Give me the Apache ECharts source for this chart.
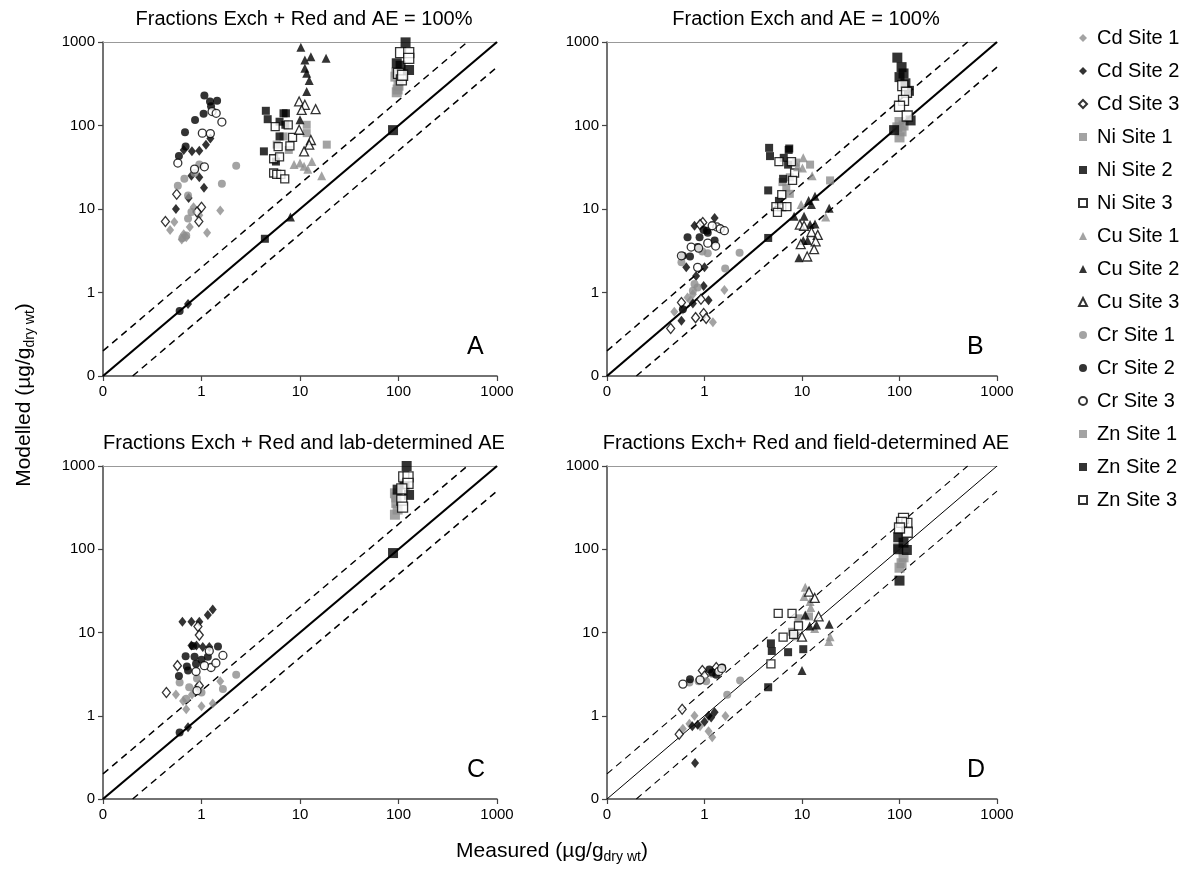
<!DOCTYPE html>
<html><head><meta charset="utf-8">
<script src="https://cdn.jsdelivr.net/npm/echarts@6/dist/echarts.min.js"></script>
<style>html,body{margin:0;padding:0;background:#fff}#c{width:1192px;height:873px}</style>
</head><body><div id="c"></div>
<script>
// ---------- Tick labels / categories ----------
const TICKS = [0.1, 1, 10, 100, 1000];
const METALS = ['Cd', 'Ni', 'Cu', 'Cr', 'Zn'];
const SITES = [1, 2, 3];
const RATIOS = [0.5, 1, 2];
const PANEL_TITLES = [
  'Fractions Exch + Red and AE = 100%',
  'Fraction Exch and AE = 100%',
  'Fractions Exch + Red and lab-determined AE',
  'Fractions Exch+ Red and field-determined AE'
];
const PANEL_LETTERS = ['A', 'B', 'C', 'D'];

// ---------- Panel A: [measured, modelled] ----------
const A_Cd1 = [[1.55,9.6],[1.14,5.2],[0.48,5.6],[0.53,7.0],[0.63,4.3],[0.76,6.1],[0.95,8.4],[0.83,10.5],[0.7,4.6],[0.66,5.0]];
const A_Cd2 = [[1.11,59],[1.23,70],[0.66,51],[0.80,49],[0.95,50],[0.79,25],[0.95,24],[1.06,18],[0.74,13.5],[0.55,10],[0.73,0.73]];
const A_Cd3 = [[0.56,15],[0.43,7.1],[1.0,10.5],[0.90,9.2],[0.94,7.1]];
const A_Ni1 = [[5.8,59],[7.7,51],[11.7,102],[11.7,81],[18.7,59],[6.8,74]];
const A_Ni2 = [[4.5,150],[4.7,119],[6.8,140],[7.2,140],[6.2,111],[7.1,102],[6.2,74],[4.3,49],[5.7,37],[4.4,4.4]];
const A_Ni3 = [[5.6,97],[7.6,102],[8.4,72],[6.0,56],[7.9,57],[5.4,40],[6.2,42],[5.4,27],[5.8,26],[6.4,26],[7.0,23]];
const A_Cu1 = [[8.7,34],[10,35.5],[11,32.4],[13.2,37],[16.6,25],[12,30]];
const A_Cu2 = [[10.2,863],[11.2,609],[12.9,667],[18.4,637],[11.2,484],[11.7,422],[12.4,345],[11.7,255],[10,117],[8,8]];
const A_Cu3 = [[9.8,194],[11.2,177],[14.4,157],[10.4,154],[9.8,89],[12.9,67],[12.4,59],[11,49]];
const A_Cr1 = [[2.25,33],[1.61,20],[0.575,19],[0.67,23],[0.73,14.5],[0.79,9.2],[0.73,7.7],[0.70,4.8],[0.64,4.5],[0.95,34],[0.85,27]];
const A_Cr2 = [[1.07,228],[1.22,194],[1.44,198],[1.25,170],[1.05,138],[0.86,116],[0.68,83],[0.69,56],[0.59,43],[0.6,0.6]];
const A_Cr3 = [[1.28,147],[1.41,140],[1.61,110],[1.02,81],[1.23,80],[0.575,35.5],[1.07,32],[0.85,30]];
const A_Zn1 = [[95,430],[93,385],[98,270],[96,250],[100,300]];
const A_Zn2 = [[118,990],[96,556],[128,462],[105,520],[88,88]];
const A_Zn3 = [[105,745],[127,745],[127,637],[100,420],[107,351],[110,400]];

// ---------- Panel B ----------
const B_Cd1 = [[0.49,0.59],[0.76,0.95],[1.22,0.44],[1.6,1.07],[0.67,0.87],[0.72,0.8],[0.6,0.62]];
const B_Cd2 = [[0.79,6.3],[1.27,7.8],[0.65,2.0],[0.82,1.58],[1.0,2.0],[0.98,1.2],[1.1,0.81],[0.58,0.46],[0.76,0.74]];
const B_Cd3 = [[0.58,0.76],[0.45,0.37],[0.81,0.5],[0.98,0.56],[1.04,0.49],[0.92,0.83],[0.96,6.9],[0.9,6.5]];
const B_Ni1 = [[7.5,24],[6.3,21],[6.9,18],[7.5,15.2],[19.4,22],[12.1,34],[8.7,36]];
const B_Ni2 = [[4.6,54],[4.7,43],[7.4,53],[7.3,51],[6.5,41],[7.2,34],[6.4,23],[4.5,16.7],[5.8,12.5],[4.5,4.5]];
const B_Ni3 = [[5.8,37],[7.8,37],[8.4,27],[8.0,22],[6.2,14.9],[5.4,10.7],[6.2,10.7],[7.0,10.7],[5.6,9.1]];
const B_Cu1 = [[10.3,41],[9,32],[10.1,31],[12.7,25],[9.8,11.3],[17.5,8]];
const B_Cu2 = [[13.6,14.2],[11.7,12.6],[12.5,11.3],[8.3,8.2],[10.5,8.2],[19,10.2],[12.1,6.5],[13.6,6.6],[10.3,4.2],[11.4,4.2],[9.3,2.6]];
const B_Cu3 = [[9.5,6.5],[10.5,6.3],[12.5,5.3],[14.5,4.9],[9.7,3.8],[13.8,4.1],[13.3,3.3],[11.3,2.7]];
const B_Cr1 = [[2.29,3.0],[1.63,1.94],[1.08,2.96],[0.58,2.3],[0.79,1.26],[0.76,1.05],[0.85,1.15],[0.95,3.1]];
const B_Cr2 = [[0.67,4.6],[0.6,2.75],[0.71,2.7],[0.89,4.6],[0.98,5.6],[1.08,5.2],[0.85,3.5],[1.27,4.2],[1.06,5.5],[0.6,0.63]];
const B_Cr3 = [[0.58,2.75],[0.73,3.5],[0.87,3.4],[1.08,3.9],[1.3,3.6],[1.34,6.1],[0.85,2.0],[1.45,5.8],[1.6,5.5],[1.2,6.3]];
const B_Zn1 = [[100,110],[95,95],[105,85],[100,72],[110,100]];
const B_Zn2 = [[95,650],[105,500],[110,420],[100,380],[115,320],[125,260],[130,115],[88,88]];
const B_Zn3 = [[108,300],[118,250],[110,200],[100,170],[120,130]];

// ---------- Panel C ----------
const C_Cd1 = [[1.55,2.6],[0.55,1.8],[0.65,1.5],[0.8,1.8],[1.0,1.3],[1.3,1.4],[0.9,2.2],[0.7,1.2]];
const C_Cd2 = [[1.3,18.9],[1.16,16.2],[0.95,13.5],[0.79,13.5],[0.64,13.5],[0.79,7],[0.89,7],[1.03,6.7],[1.2,6.7],[0.73,0.73]];
const C_Cd3 = [[0.92,11.8],[0.95,9.3],[0.57,4.0],[0.44,1.9],[0.95,2.3]];
const C_Ni1 = [];
const C_Ni2 = [];
const C_Ni3 = [];
const C_Cu1 = [];
const C_Cu2 = [];
const C_Cu3 = [];
const C_Cr1 = [[2.25,3.1],[1.65,2.1],[0.6,2.5],[0.75,2.2],[0.9,2.8],[1.0,1.9],[0.7,1.6]];
const C_Cr2 = [[0.69,5.2],[0.85,5.1],[1.0,4.7],[1.16,5.1],[1.47,6.8],[0.71,3.9],[0.88,4.2],[0.59,3.0],[0.73,3.5],[0.82,6.9],[0.6,0.63]];
const C_Cr3 = [[1.65,5.3],[1.25,3.8],[1.07,4.0],[0.88,3.4],[1.4,4.3],[1.2,6.0],[0.9,2.0]];
const C_Zn1 = [[92,470],[95,360],[92,260],[98,300],[95,420]];
const C_Zn2 = [[121,1000],[98,520],[128,450],[115,600],[88,90]];
const C_Zn3 = [[113,740],[125,740],[125,620],[108,530],[108,390],[110,320]];

// ---------- Panel D ----------
const D_Cd1 = [[0.79,1.0],[1.64,0.99],[0.6,0.7],[0.7,0.8],[1.2,0.55],[1.1,0.65],[0.9,0.75]];
const D_Cd2 = [[1.27,1.1],[1.17,0.95],[1.0,0.85],[0.85,0.78],[0.75,0.75],[1.1,1.0],[0.8,0.27]];
const D_Cd3 = [[0.95,3.5],[1.32,3.8],[0.59,1.2],[0.55,0.6],[1.0,3.0]];
const D_Ni1 = [[9.2,14.8],[11.8,15.6],[7.9,10.2],[8.6,9]];
const D_Ni2 = [[4.8,7.4],[4.9,6.0],[7.2,5.8],[10.3,6.3],[4.5,2.2]];
const D_Ni3 = [[5.7,17],[7.9,17],[9.2,12],[6.4,8.8],[8.2,9.5],[4.8,4.2]];
const D_Cu1 = [[10.8,35],[10.5,27],[12.1,23.5],[12.3,20],[13.5,11.2],[18.8,7.8],[19.4,8.9]];
const D_Cu2 = [[10.8,16.2],[12,12],[14.1,12.3],[19,12.6],[10,3.5]];
const D_Cu3 = [[11.8,31],[13.5,26],[14.8,15.6],[10,8.9]];
const D_Cr1 = [[0.87,2.6],[1.04,2.6],[2.32,2.65],[1.71,1.79],[0.7,2.5],[1.2,3.2]];
const D_Cr2 = [[0.71,2.75],[1.12,3.6],[1.32,3.1],[1.52,3.8],[1.2,3.3]];
const D_Cr3 = [[0.6,2.4],[1.4,3.4],[1.5,3.7],[0.9,2.7]];
const D_Zn1 = [[97,105],[110,80],[105,68],[100,60]];
const D_Zn2 = [[97,140],[110,120],[119,98],[100,42],[97,100]];
const D_Zn3 = [[110,235],[119,205],[105,210],[120,160],[100,180]];

// table built from the arrays: panel -> metal -> site
const PANELS = [
  {Cd:[A_Cd1,A_Cd2,A_Cd3],Ni:[A_Ni1,A_Ni2,A_Ni3],Cu:[A_Cu1,A_Cu2,A_Cu3],Cr:[A_Cr1,A_Cr2,A_Cr3],Zn:[A_Zn1,A_Zn2,A_Zn3]},
  {Cd:[B_Cd1,B_Cd2,B_Cd3],Ni:[B_Ni1,B_Ni2,B_Ni3],Cu:[B_Cu1,B_Cu2,B_Cu3],Cr:[B_Cr1,B_Cr2,B_Cr3],Zn:[B_Zn1,B_Zn2,B_Zn3]},
  {Cd:[C_Cd1,C_Cd2,C_Cd3],Ni:[C_Ni1,C_Ni2,C_Ni3],Cu:[C_Cu1,C_Cu2,C_Cu3],Cr:[C_Cr1,C_Cr2,C_Cr3],Zn:[C_Zn1,C_Zn2,C_Zn3]},
  {Cd:[D_Cd1,D_Cd2,D_Cd3],Ni:[D_Ni1,D_Ni2,D_Ni3],Cu:[D_Cu1,D_Cu2,D_Cu3],Cr:[D_Cr1,D_Cr2,D_Cr3],Zn:[D_Zn1,D_Zn2,D_Zn3]}
];

// ---------- styling ----------
const FONT = '"Liberation Sans", Arial, sans-serif';
const GRIDS = [
  {left:103, top:42, width:394, height:334},
  {left:607, top:42, width:390, height:334},
  {left:103, top:466, width:394, height:333},
  {left:607, top:466, width:390, height:333}
];
const SYMBOL = {Cd:'diamond', Ni:'rect', Cu:'triangle', Cr:'circle', Zn:'rect'};
const SIZE = {Cd:[8,10], Ni:[8,8], Cu:[9,9], Cr:[8,8], Zn:[10,10]};
const SITE_STYLE = [
  {color:'#8c8c8c', borderWidth:0},
  {color:'#000000', borderWidth:0},
  {color:'#ffffff', borderColor:'#000000', borderWidth:1.3}
];
const AMIN = TICKS[0], AMAX = TICKS[TICKS.length-1];

const xAxes = [], yAxes = [], series = [], graphics = [];
const lbl = v => (v < 0.5 ? '0' : String(Math.round(v)));
const axisCommon = p => ({type:'log', logBase:10, min:AMIN, max:AMAX, gridIndex:p,
  axisLine:{show:true, onZero:false, lineStyle:{color:'#444', width:1.5}},
  axisTick:{show:true, inside:false, length:5, lineStyle:{color:'#444', width:1.2}},
  axisLabel:{formatter:lbl, fontFamily:FONT, fontSize:15, color:'#000', margin:8},
  splitLine:{show:false}, minorTick:{show:false}});
GRIDS.forEach((g, p) => { xAxes.push(axisCommon(p)); yAxes.push(axisCommon(p)); });
// top border lines
GRIDS.forEach((g, p) => {
  xAxes.push({type:'value', gridIndex:p, position:'top', min:0, max:1,
    axisLine:{show:true, lineStyle:{color:'#999', width:1}},
    axisTick:{show:false}, axisLabel:{show:false}, splitLine:{show:false}});
});

GRIDS.forEach((g, p) => {
  const thin = p === 3;
  RATIOS.forEach(r => {
    const x0 = Math.max(AMIN, AMIN / r), x1 = Math.min(AMAX, AMAX / r);
    series.push({type:'line', xAxisIndex:p, yAxisIndex:p, silent:true, symbol:'none',
      z:1, data:[[x0, x0*r],[x1, x1*r]],
      lineStyle: r === 1
        ? {color:'#000', width: thin ? 1 : 2.2, type:'solid'}
        : {color:'#000', width: thin ? 1.1 : 1.5, type:[7,5]}});
  });
  METALS.forEach(m => {
    SITES.forEach((s, si) => {
      series.push({type:'scatter', name: m + ' Site ' + s, xAxisIndex:p, yAxisIndex:p, z:3,
        data: PANELS[p][m][si], symbol: SYMBOL[m], symbolSize: SIZE[m],
        itemStyle: SITE_STYLE[si]});
    });
  });
  graphics.push({type:'text', x: g.left + g.width/2 + 4, y: g.top - 23,
    style:{text: PANEL_TITLES[p], font: '20px ' + FONT, fill:'#000', textAlign:'center', textVerticalAlign:'middle'}});
  graphics.push({type:'text', x: g.left + g.width - 30, y: g.top + g.height - 29,
    style:{text: PANEL_LETTERS[p], font: '25px ' + FONT, fill:'#000', textAlign:'left', textVerticalAlign:'middle'}});
});

// axis titles
const titleRich = {a:{fontFamily:FONT, fontSize:21, fill:'#000'}, b:{fontFamily:FONT, fontSize:14, fill:'#000', padding:[12,0,0,0]}};
graphics.push({type:'text', x: 552, y: 851, style:{
  text:'{a|Measured (µg/g}{b|dry wt}{a|)}', textAlign:'center', textVerticalAlign:'middle', rich:titleRich}});
graphics.push({type:'text', x: 24, y: 395, rotation: Math.PI/2, style:{
  text:'{a|Modelled (µg/g}{b|dry wt}{a|)}', textAlign:'center', textVerticalAlign:'middle', rich:titleRich}});

const legendNames = [];
METALS.forEach(m => SITES.forEach(s => legendNames.push(m + ' Site ' + s)));

const chart = echarts.init(document.getElementById('c'), null, {renderer:'canvas'});
chart.setOption({
  animation:false,
  backgroundColor:'#fff',
  grid: GRIDS.map(g => Object.assign({containLabel:false}, g)),
  xAxis: xAxes, yAxis: yAxes, series: series,
  legend:{data: legendNames, orient:'vertical', left:1078, top:28, padding:0, itemWidth:8, itemHeight:8,
    itemGap:13, textStyle:{fontFamily:FONT, fontSize:20, lineHeight:20, color:'#000', padding:[0,0,0,5]}, selectedMode:false},
  graphic: graphics
});
</script></body></html>
